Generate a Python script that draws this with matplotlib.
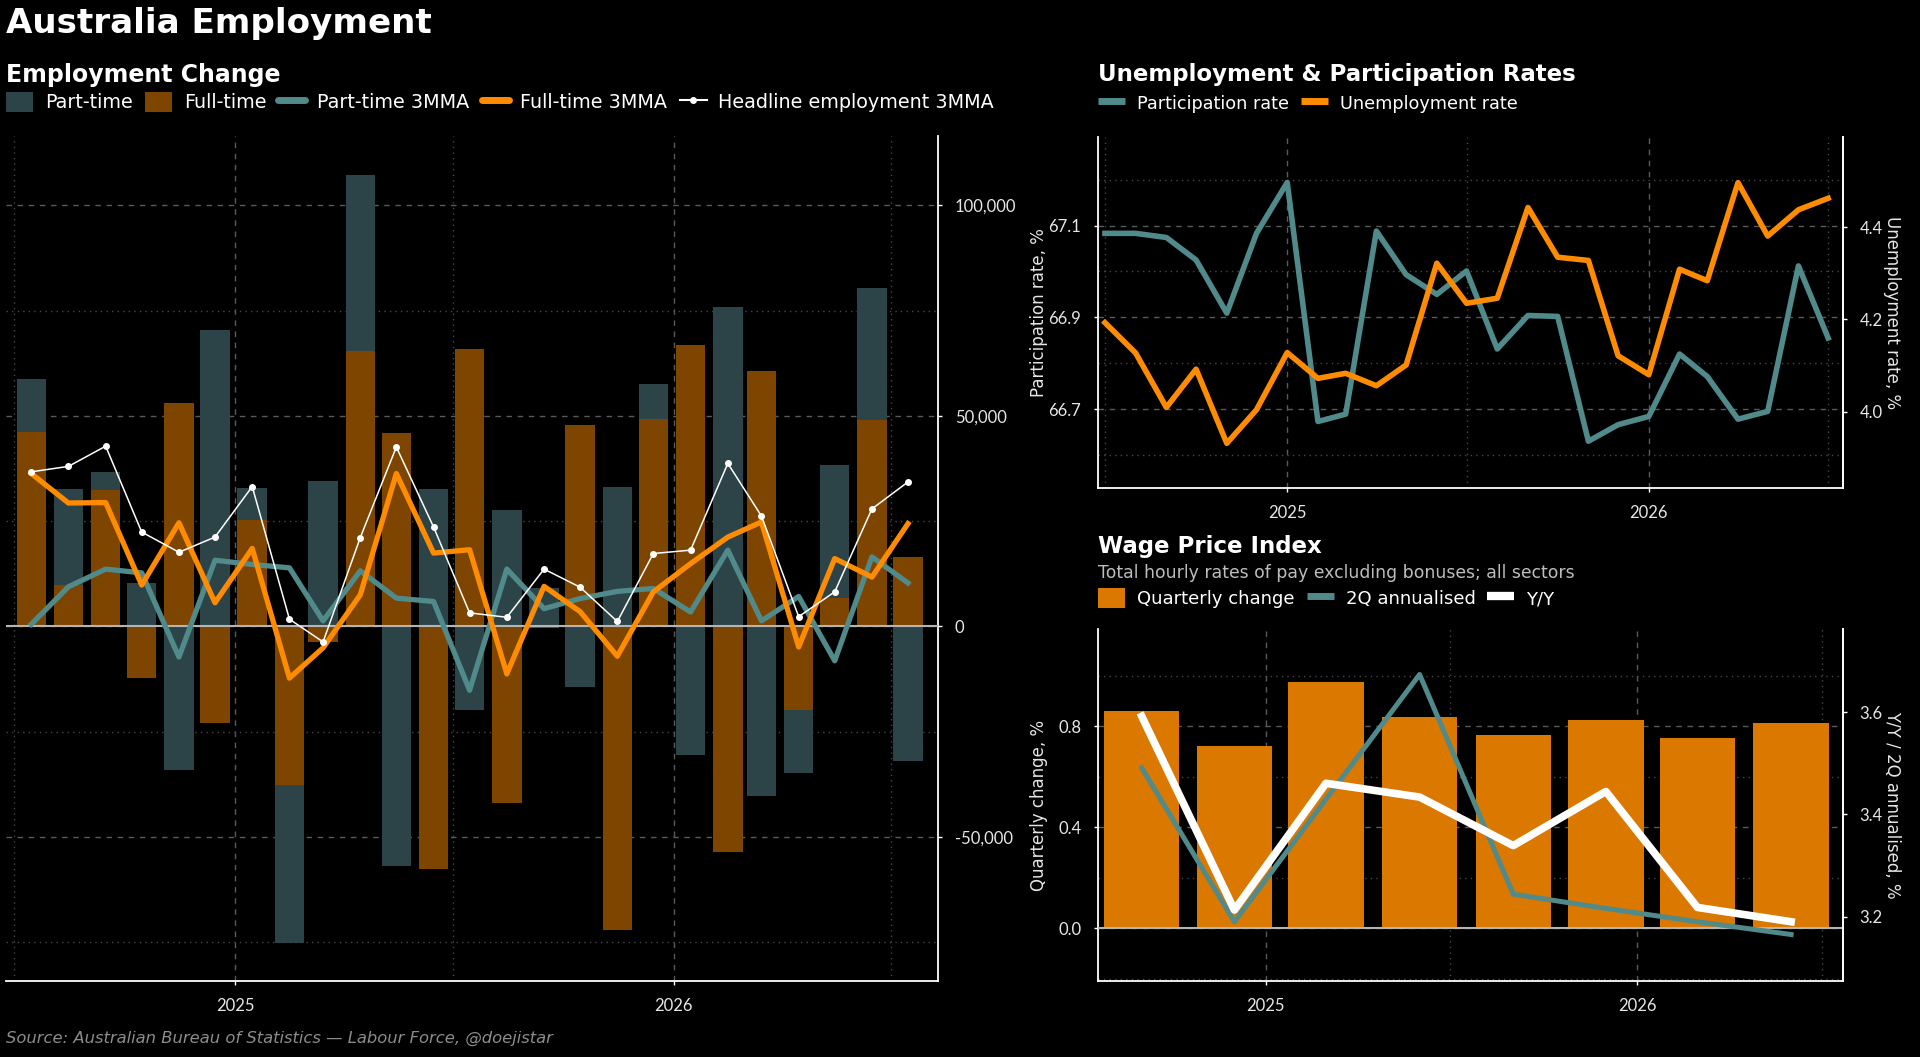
import matplotlib
matplotlib.use("Agg")
import matplotlib.pyplot as plt
import matplotlib.dates as mdates
from matplotlib.lines import Line2D
from matplotlib.patches import Patch
from matplotlib.ticker import FuncFormatter, MultipleLocator, FixedLocator
import pandas as pd

# ---- data -------------------------------------------------------------
months = pd.date_range("2024-07-01", "2026-07-01", freq="MS")
bar_dates = months + pd.Timedelta(days=14)

part_time = [58700, 32600, 36600, 10200, -34200, 70300, 32800, -75300, 34500, 107300,
             -56900, 32600, -19900, 27600, 9200, -14500, 33100, 57500, -30600, 75800,
             -40400, -34800, 38300, 80300, -32000]
full_time = [46200, 9800, 32300, -12300, 53100, -23000, 25300, -37700, -3700, 65400,
             46000, -57600, 66000, -42000, -400, 47800, -72200, 49200, 66800, -53600,
             60600, -19900, 6700, 49000, 16400]
part_time_3mma = [500, 9400, 13600, 12700, -7300, 15700, 14700, 13900, 1300, 13200,
                  6700, 5900, -15200, 13600, 4200, 6600, 8300, 9000, 3400, 18100,
                  1300, 7100, -8200, 16500, 10300]
full_time_3mma = [36300, 29300, 29400, 9800, 24600, 5600, 18500, -12300, -5100, 7500,
                  36300, 17400, 18200, -11300, 9500, 3500, -7100, 8200, 14900, 21200,
                  24800, -4900, 16100, 11700, 24400]
headline_3mma = [36700, 38000, 42800, 22400, 17600, 21200, 33200, 1700, -3700, 21100,
                 42600, 23600, 3200, 2150, 13600, 9300, 1150, 17300, 18100, 38700,
                 26200, 2300, 8200, 27900, 34300]

participation = [67.083, 67.083, 67.074, 67.025, 66.909, 67.083, 67.194, 66.673, 66.689,
                 67.088, 66.993, 66.950, 67.001, 66.831, 66.904, 66.902, 66.630, 66.666,
                 66.684, 66.820, 66.771, 66.678, 66.695, 67.012, 66.855]
unemployment = [4.193, 4.127, 4.009, 4.092, 3.931, 4.004, 4.128, 4.072, 4.083, 4.056,
                4.101, 4.322, 4.235, 4.246, 4.443, 4.335, 4.328, 4.121, 4.080, 4.309,
                4.284, 4.497, 4.381, 4.438, 4.463]

quarters = pd.to_datetime(["2024-09-01", "2024-12-01", "2025-03-01", "2025-06-01",
                           "2025-09-01", "2025-12-01", "2026-03-01", "2026-06-01"])
wpi_qoq = [0.862, 0.723, 0.977, 0.838, 0.767, 0.826, 0.755, 0.815]
wpi_2q_ann = [3.491, 3.190, 3.430, 3.674, 3.244, 3.216, 3.190, 3.165]
wpi_yoy = [3.592, 3.213, 3.461, 3.434, 3.339, 3.445, 3.218, 3.190]

# ---- style ------------------------------------------------------------
PT_BAR = "#2c4448"
FT_BAR = "#7e4500"
TEAL = "#508a8b"
ORANGE = "#ff8c00"
WPI_BAR = "#da7800"
TXT = "#e6e6e6"

plt.rcParams["font.family"] = ["DejaVu Sans"]
plt.rcParams["axes.facecolor"] = "black"
plt.rcParams["figure.facecolor"] = "black"

W, H = 1920, 1057
fig = plt.figure(figsize=(W / 100, H / 100), dpi=100)


def rect(x0, y0, x1, y1):
    return [x0 / W, 1 - y1 / H, (x1 - x0) / W, (y1 - y0) / H]


TICK_KW = dict(colors="white", labelcolor=TXT, labelsize=12, labelfontfamily="Lato",
               length=3, width=1, pad=9)


def style_axes(ax, left=True):
    ax.spines["top"].set_visible(False)
    ax.spines["left"].set_visible(left)
    for s in ["left", "right", "bottom"]:
        ax.spines[s].set_color("white")
        ax.spines[s].set_linewidth(1.3)
    ax.tick_params(which="major", **TICK_KW)
    ax.tick_params(which="minor", length=0)
    ax.grid(which="major", color="#5a5a5a", lw=1, ls=(0, (4, 4)))
    ax.grid(which="minor", color="#464646", lw=1, ls=(0, (1, 3)))
    ax.set_axisbelow(True)
    ax.xaxis.set_major_locator(mdates.YearLocator())
    ax.xaxis.set_minor_locator(mdates.MonthLocator(bymonth=7))
    ax.xaxis.set_major_formatter(mdates.DateFormatter("%Y"))


def style_twin(a):
    a.tick_params(**TICK_KW)
    for s in ["top", "left", "bottom"]:
        a.spines[s].set_visible(False)
    a.spines["right"].set_color("white")
    a.spines["right"].set_linewidth(1.3)


# ---- employment change --------------------------------------------------
ax = fig.add_axes(rect(6, 136, 938, 981))
style_axes(ax, left=False)
ax.yaxis.tick_right()
ax.bar(bar_dates, part_time, width=24.5, color=PT_BAR, zorder=2)
ax.bar(bar_dates, full_time, width=24.5, color=FT_BAR, zorder=3)
ax.axhline(0, color="#b4b4b4", lw=1.5, zorder=4)
ax.plot(bar_dates, part_time_3mma, color=TEAL, lw=3.8, zorder=5)
ax.plot(bar_dates, full_time_3mma, color=ORANGE, lw=3.8, zorder=6)
ax.plot(bar_dates, headline_3mma, color="white", lw=1.1, marker="o", ms=4, zorder=7)
ax.set_xlim(pd.Timestamp("2024-06-24"), pd.Timestamp("2026-08-09"))
ax.set_ylim(-84250, 116480)
ax.yaxis.set_major_locator(MultipleLocator(50000))
ax.yaxis.set_minor_locator(MultipleLocator(25000))
ax.yaxis.set_major_formatter(FuncFormatter(lambda v, p: f"{v:,.0f}"))

# ---- unemployment & participation ---------------------------------------
axr = fig.add_axes(rect(1098, 137, 1843, 488))
style_axes(axr)
axr.plot(months, participation, color=TEAL, lw=4, zorder=3)
axr.set_ylim(66.528, 67.293)
axr.yaxis.set_major_locator(FixedLocator([66.7, 66.9, 67.1]))
axr.yaxis.set_minor_locator(FixedLocator([66.6, 66.8, 67.0, 67.2]))
axr.yaxis.set_major_formatter(FuncFormatter(lambda v, p: f"{v:.1f}"))
axr.set_xlim(pd.Timestamp("2024-06-24"), pd.Timestamp("2026-07-16"))
axr.set_ylabel("Participation rate, %", color=TXT, fontsize=12, va="center")
axr.yaxis.set_label_coords(-0.079, 0.5)

axu = axr.twinx()
style_twin(axu)
axu.plot(months, unemployment, color=ORANGE, lw=4, zorder=4)
axu.set_ylim(3.834, 4.596)
axu.yaxis.set_major_locator(FixedLocator([4.0, 4.2, 4.4]))
axu.yaxis.set_major_formatter(FuncFormatter(lambda v, p: f"{v:.1f}"))
axu.set_ylabel("Unemployment rate, %", color=TXT, fontsize=12, rotation=270, va="center")
axu.yaxis.set_label_coords(1.066, 0.5)

# ---- wage price index ----------------------------------------------------
axw = fig.add_axes(rect(1098, 629, 1843, 981))
style_axes(axw)
axw.bar(quarters, wpi_qoq, width=74, color=WPI_BAR, zorder=2)
axw.axhline(0, color="#b4b4b4", lw=1.5, zorder=3)
axw.set_ylim(-0.209, 1.186)
axw.yaxis.set_major_locator(FixedLocator([0.0, 0.4, 0.8]))
axw.yaxis.set_minor_locator(FixedLocator([-0.2, 0.2, 0.6, 1.0]))
axw.yaxis.set_major_formatter(FuncFormatter(lambda v, p: f"{v:.1f}"))
axw.set_xlim(pd.Timestamp("2024-07-20"), pd.Timestamp("2026-07-22"))
axw.set_ylabel("Quarterly change, %", color=TXT, fontsize=12, va="center")
axw.yaxis.set_label_coords(-0.079, 0.5)

axy = axw.twinx()
style_twin(axy)
axy.plot(quarters, wpi_2q_ann, color=TEAL, lw=3.6, zorder=4)
axy.plot(quarters, wpi_yoy, color="white", lw=5.5, zorder=5)
axy.set_ylim(3.074, 3.763)
axy.yaxis.set_major_locator(FixedLocator([3.2, 3.4, 3.6]))
axy.yaxis.set_major_formatter(FuncFormatter(lambda v, p: f"{v:.1f}"))
axy.set_ylabel("Y/Y / 2Q annualised, %", color=TXT, fontsize=12, rotation=270, va="center")
axy.yaxis.set_label_coords(1.066, 0.5)

# ---- titles & legends ------------------------------------------------------
fig.text(6 / W, 1 - 24 / H, "Australia Employment", color="white", fontsize=24.6,
         fontweight="bold", va="center")
fig.text(6 / W, 1 - 75 / H, "Employment Change", color="white", fontsize=17,
         fontweight="bold", va="center")
fig.text(1098 / W, 1 - 75 / H, "Unemployment & Participation Rates", color="white",
         fontsize=16.5, fontweight="bold", va="center")
fig.text(1098 / W, 1 - 547 / H, "Wage Price Index", color="white", fontsize=16.5,
         fontweight="bold", va="center")
fig.text(1098 / W, 1 - 573 / H, "Total hourly rates of pay excluding bonuses; all sectors",
         color="#bdbdbd", fontsize=12.4, va="center")
fig.text(6 / W, 1 - 1038 / H,
         "Source: Australian Bureau of Statistics \u2014 Labour Force, @doejistar",
         color="#8c8c8c", fontsize=11.8, style="italic", va="center")


def legend_kw(size):
    # handle box ~27 x 25 px, text pad ~12 px whatever the font size
    em = size * 100 / 72
    return dict(loc="center left", frameon=False, fontsize=size, labelcolor="white",
                handlelength=27 / em, handleheight=25 / em, handletextpad=12 / em,
                columnspacing=12 / em, borderpad=0, borderaxespad=0)


emp_handles = [
    Patch(facecolor=PT_BAR),
    Patch(facecolor=FT_BAR),
    Line2D([], [], color=TEAL, lw=5, solid_capstyle="round"),
    Line2D([], [], color=ORANGE, lw=5, solid_capstyle="round"),
    Line2D([], [], color="white", lw=1.5, marker="o", ms=4),
]
fig.legend(emp_handles, ["Part-time", "Full-time", "Part-time 3MMA", "Full-time 3MMA",
                         "Headline employment 3MMA"],
           bbox_to_anchor=(6 / W, 1 - 102 / H), ncol=5, **legend_kw(13.8))

rate_handles = [
    Line2D([], [], color=TEAL, lw=5, solid_capstyle="butt"),
    Line2D([], [], color=ORANGE, lw=5, solid_capstyle="butt"),
]
fig.legend(rate_handles, ["Participation rate", "Unemployment rate"],
           bbox_to_anchor=(1098 / W, 1 - 103 / H), ncol=2, **legend_kw(12.7))

wpi_handles = [
    Patch(facecolor=WPI_BAR),
    Line2D([], [], color=TEAL, lw=5, solid_capstyle="butt"),
    Line2D([], [], color="white", lw=6, solid_capstyle="butt"),
]
fig.legend(wpi_handles, ["Quarterly change", "2Q annualised", "Y/Y"],
           bbox_to_anchor=(1098 / W, 1 - 598 / H), ncol=3, **legend_kw(13))

fig.savefig("out.png", dpi=100, facecolor="black")
